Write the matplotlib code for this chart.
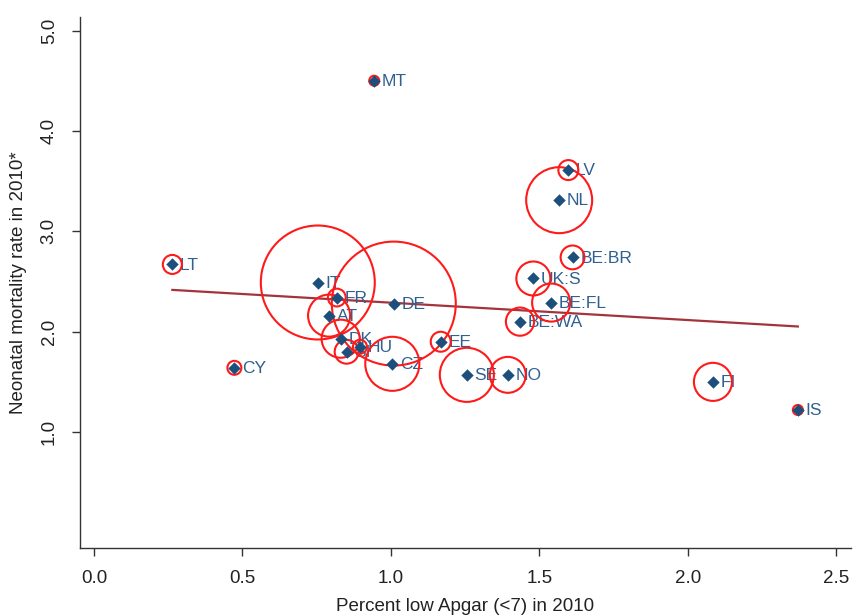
import matplotlib.pyplot as plt
import numpy as np

plt.rcParams["font.family"] = ["Liberation Sans", "DejaVu Sans"]

# values
countries = ["MT", "LV", "NL", "BE:BR", "UK:S", "BE:FL", "BE:WA", "LT", "IT",
             "FR", "DE", "AT", "DK", "SI", "HU", "CZ", "EE", "SE", "NO", "CY",
             "FI", "IS"]
low_apgar = [0.944, 1.598, 1.567, 1.612, 1.480, 1.540, 1.435, 0.264, 0.754,
             0.818, 1.010, 0.792, 0.831, 0.851, 0.896, 1.005, 1.168, 1.256,
             1.394, 0.473, 2.085, 2.371]
neonatal_mort = [4.50, 3.61, 3.31, 2.74, 2.53, 2.29, 2.10, 2.67, 2.49,
                 2.34, 2.28, 2.16, 1.93, 1.80, 1.85, 1.68, 1.90, 1.57,
                 1.57, 1.64, 1.50, 1.22]
# births in thousands (bubble weight)
births = [4.4, 17.6, 192, 25, 51, 64, 35, 16, 573,
          14, 678, 78, 64, 25, 8.6, 129, 17.6, 129,
          57, 8.6, 64, 4.4]

fit_intercept = 2.462
fit_slope = -0.173

x_ticks = [0.0, 0.5, 1.0, 1.5, 2.0, 2.5]
y_ticks = [1.0, 2.0, 3.0, 4.0, 5.0]

navy = "#1d4f7c"
label_col = "#2f6090"

fig = plt.figure(figsize=(8.56, 6.16), dpi=100)
ax = fig.add_axes([80 / 856, 68 / 616, 771 / 856, 531 / 616])

x = np.array(low_apgar)
y = np.array(neonatal_mort)

xs = np.array([x.min(), x.max()])
ax.plot(xs, fit_intercept + fit_slope * xs, color="#a3343c", lw=1.6, zorder=1)

for name, xi, yi in zip(countries, x, y):
    ax.annotate(name, (xi, yi), xytext=(5.5, -0.5), textcoords="offset points",
                va="center", ha="left", fontsize=12.5, color=label_col, zorder=2)

ax.scatter(x, y, s=np.array(births) * 11.75, facecolors="none",
           edgecolors="#ff1a1a", linewidths=1.5, zorder=3)
ax.scatter(x, y, marker="D", s=40, color=navy, zorder=4, linewidths=0)

ax.set_xlim(-0.047, 2.55)
ax.set_ylim(-0.155, 5.135)
ax.set_xticks(x_ticks)
ax.set_xticklabels([f"{t:.1f}" for t in x_ticks])
ax.set_yticks(y_ticks)
ax.set_yticklabels([f"{t:.1f}" for t in y_ticks], rotation=90, va="center")

for side in ["top", "right"]:
    ax.spines[side].set_visible(False)
for side in ["left", "bottom"]:
    ax.spines[side].set_color("#333333")
    ax.spines[side].set_linewidth(1.0)
ax.tick_params(direction="out", length=6, width=1.0, color="#333333",
               labelsize=13.5, labelcolor="#222222", pad=10)

ax.set_xlabel("Percent low Apgar (<7) in 2010", fontsize=13.5, color="#222222",
              labelpad=8)
ax.set_ylabel("Neonatal mortality rate in 2010*", fontsize=13.5, color="#222222",
              labelpad=10)

fig.savefig("out.png", dpi=100)
